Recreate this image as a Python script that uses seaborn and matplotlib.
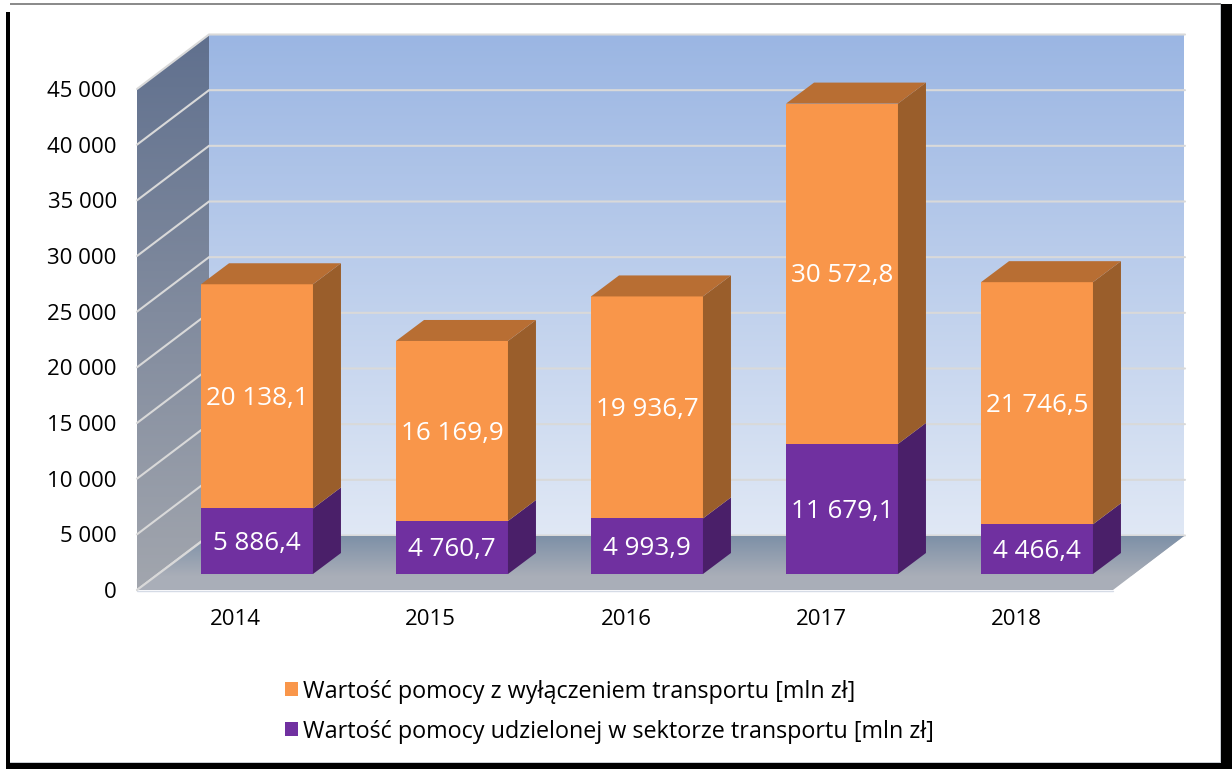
import numpy as np
import pandas as pd
import matplotlib
matplotlib.use("Agg")
import matplotlib.pyplot as plt
from matplotlib.patches import Patch, Polygon, Rectangle
import seaborn as sns

years = ["2014", "2015", "2016", "2017", "2018"]
transport = [5886.4, 4760.7, 4993.9, 11679.1, 4466.4]
other = [20138.1, 16169.9, 19936.7, 30572.8, 21746.5]
y_ticks = [0, 5000, 10000, 15000, 20000, 25000, 30000, 35000, 40000, 45000]
label_other = "Wartość pomocy z wyłączeniem transportu [mln zł]"
label_transport = "Wartość pomocy udzielonej w sektorze transportu [mln zł]"

W, H = 1232, 769
ORANGE = "#F9964A"
PURPLE = "#7030A0"
GRID = "#D9D9D9"
FLOOR = "#A9AEB8"


def fmt(v):
    return f"{v:,.1f}".replace(",", " ").replace(".", ",")


def tick_fmt(v):
    return f"{v:,.0f}".replace(",", " ")


def gradient(ax, poly, top, bottom, y0, y1, z=3):
    # vertical gradient clipped to a polygon, pixel coords
    c0 = np.array(matplotlib.colors.to_rgb(top))
    c1 = np.array(matplotlib.colors.to_rgb(bottom))
    t = np.linspace(0, 1, 256)[:, None, None]
    img = c0[None, None, :] * (1 - t) + c1[None, None, :] * t
    xs = [p[0] for p in poly]
    im = ax.imshow(img, extent=(min(xs), max(xs), y1, y0), aspect="auto", zorder=z)
    patch = Polygon(poly, closed=True, transform=ax.transData, fc="none", ec="none")
    ax.add_patch(patch)
    im.set_clip_path(patch)


sns.set_theme(style="white")
plt.rcParams["font.family"] = "Open Sans"
plt.rcParams["text.color"] = "black"
plt.rcParams["xtick.color"] = "black"
plt.rcParams["ytick.color"] = "black"

fig = plt.figure(figsize=(W / 100, H / 100), dpi=100, facecolor="white")

# frame and 3d walls, in pixels
bg = fig.add_axes([0, 0, 1, 1])
bg.axis("off")

bg.add_patch(Rectangle((1221, 4), 11, H - 4, fc="black", ec="none"))
bg.add_patch(Rectangle((6, 763), W - 6, 6, fc="black", ec="none"))
bg.add_patch(Rectangle((6, 12), 4, H - 12, fc="black", ec="none"))
bg.add_patch(Rectangle((10, 3), 1211, 2, fc="#8c8c8c", ec="none"))
bg.add_patch(Rectangle((1219.5, 5), 1.5, 758, fc="#c8ccd2", ec="none"))
bg.add_patch(Rectangle((10, 761.5), 1211, 1.5, fc="#c8ccd2", ec="none"))

gradient(bg, [(209, 35), (1184, 35), (1184, 536), (209, 536)], "#9BB6E3", "#E0E8F5", 35, 536)
gradient(bg, [(137, 89), (209, 35), (209, 536), (137, 590)], "#60708E", "#A2A6AE", 35, 590)

for v in y_ticks:
    yf = 590 - v * 501 / 45000
    yb = yf - 54.5
    bg.plot([137, 209, 1185], [yf, yb, yb], color=GRID, lw=1.5, zorder=4, solid_joinstyle="miter")

# floor: solid at the front, fades to darker towards the back wall
floor = [(137, 590), (209, 536), (1184, 536), (1113, 590)]
bg.add_patch(Polygon(floor, closed=True, fc=FLOOR, ec="none", zorder=5))
gradient(bg, [(156, 576), (209, 536), (1184, 536), (1131, 576)], "#7D90A7", FLOOR, 536, 576, z=6)
bg.plot([137, 209], [590, 536], color=GRID, lw=1.5, zorder=7)
bg.plot([137, 1113], [590.5, 590.5], color="#D5DBE6", lw=1, zorder=7)
bg.set_xlim(0, W)
bg.set_ylim(H, 0)

# front plane carries the axis labels
ax_front = fig.add_axes([137 / W, (H - 590) / H, 976 / W, 501 / H], facecolor="none")
ax_front.set_ylim(0, 45000)
ax_front.set_xlim(-0.505, 4.495)
ax_front.set_yticks(y_ticks)
ax_front.set_yticklabels([tick_fmt(v) for v in y_ticks], fontsize=16)
ax_front.set_xticks(range(len(years)))
ax_front.set_xticklabels(years, fontsize=16)
ax_front.tick_params(axis="y", length=0, pad=14.5)
ax_front.tick_params(axis="x", length=0, pad=14)
sns.despine(ax=ax_front, left=True, bottom=True)

# bars sit a little deeper than the front plane
ax = fig.add_axes([159.5 / W, (H - 574) / H, 975 / W, 501 / H], facecolor="none")
df = pd.DataFrame({"year": years, "transport": transport, "other": other})
bar_w = 0.574
sns.barplot(data=df, x="year", y="transport", color=PURPLE, saturation=1, width=bar_w,
            linewidth=0, ax=ax)
sns.barplot(data=df, x="year", y="other", bottom=df["transport"], color=ORANGE, saturation=1,
            width=bar_w, linewidth=0, ax=ax)
ax.set_xlim(-0.5, 4.5)
ax.set_ylim(0, 45000)
ax.set(xlabel="", ylabel="")
ax.set_xticks([])
ax.set_yticks([])
sns.despine(ax=ax, left=True, bottom=True)

# depth of the boxes in data units
dx = 28 / 195
dy = 21 / 501 * 45000
for i in range(len(years)):
    x1 = i + bar_w / 2
    x0 = i - bar_w / 2
    low = transport[i]
    top = low + other[i]
    ax.fill([x1, x1 + dx, x1 + dx, x1], [0, dy, low + dy, low], color="#4A1F69", lw=0, clip_on=False)
    ax.fill([x1, x1 + dx, x1 + dx, x1], [low, low + dy, top + dy, top], color="#9A5E2B", lw=0, clip_on=False)
    ax.fill([x0, x1, x1 + dx, x0 + dx], [top, top, top + dy, top + dy], color="#B86E33", lw=0, clip_on=False)

for cont, vals in zip(ax.containers, [transport, other]):
    texts = ax.bar_label(cont, labels=[fmt(v) for v in vals], label_type="center",
                         color="white", fontsize=18.7)
    for t in texts:
        t.xyann = (0, -1.5)

handles = [Patch(color=ORANGE, lw=0), Patch(color=PURPLE, lw=0)]
fig.legend(handles, [label_other, label_transport], loc="upper left",
           bbox_to_anchor=(285 / W, 1 - 679.5 / H), frameon=False, fontsize=16.8,
           handlelength=0.56, handleheight=0.56, handletextpad=0.21,
           labelspacing=0.69, borderpad=0, borderaxespad=0)

fig.savefig("out.png", dpi=100)
